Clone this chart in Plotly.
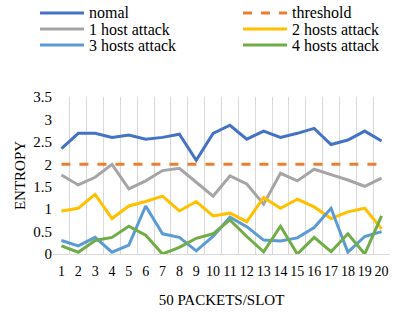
import plotly.graph_objects as go

slots = list(range(1, 21))
slot_labels = [str(s) for s in slots]
names = ["nomal", "threshold", "1 host attack", "2 hosts attack", "3 hosts attack", "4 hosts attack"]
nomal = [2.35, 2.69, 2.69, 2.60, 2.65, 2.56, 2.60, 2.67, 2.09, 2.69, 2.87, 2.56, 2.74, 2.60, 2.69, 2.80, 2.44, 2.54, 2.74, 2.52]
threshold = [2.0] * 20
host1 = [1.76, 1.54, 1.71, 2.00, 1.45, 1.63, 1.86, 1.91, 1.60, 1.29, 1.74, 1.56, 1.11, 1.80, 1.63, 1.89, 1.77, 1.65, 1.51, 1.69]
host2 = [0.96, 1.02, 1.33, 0.79, 1.07, 1.17, 1.29, 0.96, 1.17, 0.85, 0.91, 0.72, 1.26, 1.02, 1.22, 1.05, 0.79, 0.94, 1.02, 0.56]
host3 = [0.30, 0.18, 0.37, 0.04, 0.20, 1.07, 0.45, 0.37, 0.07, 0.39, 0.82, 0.61, 0.31, 0.29, 0.36, 0.59, 1.02, 0.04, 0.39, 0.50]
host4 = [0.18, 0.04, 0.30, 0.37, 0.62, 0.42, 0.00, 0.15, 0.35, 0.45, 0.76, 0.39, 0.05, 0.62, 0.00, 0.37, 0.05, 0.45, 0.00, 0.85]
series = [nomal, threshold, host1, host2, host3, host4]
colors = ["#4472C4", "#ED7D31", "#A5A5A5", "#FFC000", "#5B9BD5", "#70AD47"]
dashes = ["solid", "dash", "solid", "solid", "solid", "solid"]

W, H = 398, 313
ML, MR, MT, MB = 53, 8, 97, 59
PW, PH = W - ML - MR, H - MT - MB
legend_pos = [(40, 13), (243, 13), (40, 29), (243, 29), (40, 45), (243, 45)]
LINE_LEN = 44

def px2paper(px, py):
    return (px - ML) / PW, (H - MB - py) / PH

font_family = "Liberation Serif"
fig = go.Figure()
shapes, annots = [], []
for i, (nm, ys, c, d) in enumerate(zip(names, series, colors, dashes)):
    fig.add_trace(go.Scatter(x=slots, y=ys, mode="lines", name=nm,
                             line=dict(color=c, width=3, dash=d)))
    px, py = legend_pos[i]
    x0, y0 = px2paper(px, py)
    x1, _ = px2paper(px + LINE_LEN, py)
    shapes.append(dict(type="line", xref="paper", yref="paper", x0=x0, x1=x1, y0=y0, y1=y0,
                       line=dict(color=c, width=3, dash=d)))
    xt, _ = px2paper(px + LINE_LEN + 3, py)
    annots.append(dict(text=nm, xref="paper", yref="paper", x=xt, y=y0, xanchor="left",
                       yanchor="middle", showarrow=False,
                       font=dict(family=font_family, size=16, color="#000000")))

fig.update_layout(
    width=W, height=H,
    margin=dict(l=ML, r=MR, t=MT, b=MB, autoexpand=False),
    paper_bgcolor="white", plot_bgcolor="white",
    font=dict(family=font_family, size=14, color="#000000"),
    showlegend=False,
    xaxis=dict(range=[0.5, 20.5], tickmode="array", tickvals=slots, ticktext=slot_labels,
               showgrid=False, zeroline=False,
               minor=dict(tickmode="linear", tick0=0.5, dtick=1, showgrid=True,
                          gridcolor="#D9D9D9", gridwidth=1, ticks=""),
               showline=True, linecolor="#D9D9D9", linewidth=1, mirror=False,
               ticks="", tickfont=dict(size=14), tickangle=0, ticklabelstandoff=4,
               title=dict(text="50 PACKETS/SLOT", font=dict(size=15), standoff=16)),
    yaxis=dict(range=[0, 3.5], dtick=0.5, showgrid=False, zeroline=False,
               showline=False, ticks="", tickfont=dict(size=15),
               title=dict(text="ENTROPY", font=dict(size=15), standoff=4)),
    shapes=shapes,
    annotations=annots,
)

fig.write_html("out.html", config={"displayModeBar": False},
               post_script="document.body.style.margin='0';")
